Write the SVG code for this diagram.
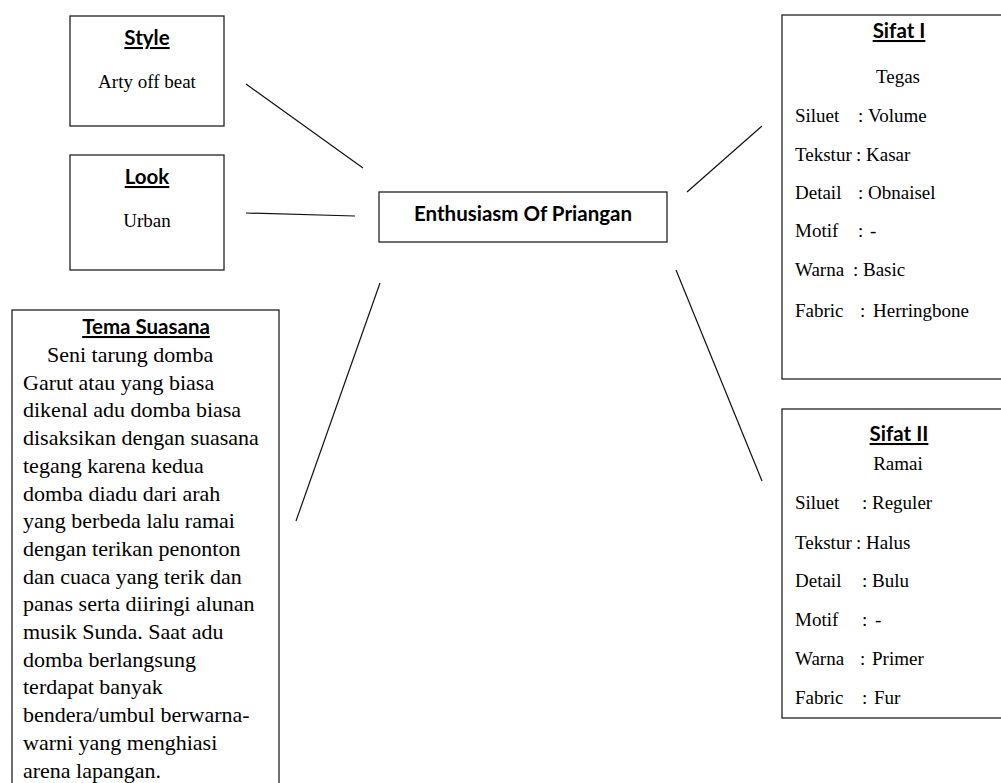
<svg xmlns="http://www.w3.org/2000/svg" width="1001" height="783" viewBox="0 0 1001 783">
<style>
.box{fill:#fff;stroke:#222;stroke-width:1.3}
.t{font-family:"Lato","Liberation Sans",sans-serif;font-weight:bold;font-size:20.5px;fill:#000;text-anchor:middle}
.u{text-decoration:underline}
.s{font-family:"Liberation Serif","Times New Roman",serif;font-size:19px;fill:#000}
.c{text-anchor:middle}
.b{font-family:"Liberation Serif","Times New Roman",serif;font-size:22px;fill:#000}
.ln{stroke:#111;stroke-width:1.2;fill:none}
</style>
<rect width="1001" height="783" fill="#fff"/>
<g id="connectors">
<line class="ln" x1="246" y1="84" x2="363" y2="168"/>
<line class="ln" x1="246" y1="213" x2="355" y2="216"/>
<line class="ln" x1="380" y1="283" x2="296" y2="521"/>
<line class="ln" x1="687" y1="192" x2="762" y2="126"/>
<line class="ln" x1="676" y1="270" x2="762" y2="481"/>
</g>
<g id="style">
<rect class="box" x="70" y="16" width="154" height="110"/>
<text class="t u" x="147" y="45">Style</text>
<text class="s c" x="147" y="88">Arty off beat</text>
</g>
<g id="look">
<rect class="box" x="70" y="155" width="154" height="115"/>
<text class="t u" x="147" y="184">Look</text>
<text class="s c" x="147" y="227">Urban</text>
</g>
<g id="center">
<rect class="box" x="379" y="192" width="288" height="50"/>
<text class="t" x="523" y="221">Enthusiasm Of Priangan</text>
</g>
<g id="tema">
<rect class="box" x="12" y="310" width="267" height="490"/>
<text class="t u" x="146" y="334">Tema Suasana</text>
<text class="b" x="47" y="362">Seni tarung domba</text>
<text class="b" x="23" y="389.7">Garut atau yang biasa</text>
<text class="b" x="23" y="417.4">dikenal adu domba biasa</text>
<text class="b" x="23" y="445.1">disaksikan dengan suasana</text>
<text class="b" x="23" y="472.8">tegang karena kedua</text>
<text class="b" x="23" y="500.5">domba diadu dari arah</text>
<text class="b" x="23" y="528.2">yang berbeda lalu ramai</text>
<text class="b" x="23" y="555.9">dengan terikan penonton</text>
<text class="b" x="23" y="583.6">dan cuaca yang terik dan</text>
<text class="b" x="23" y="611.3">panas serta diiringi alunan</text>
<text class="b" x="23" y="639">musik Sunda. Saat adu</text>
<text class="b" x="23" y="666.7">domba berlangsung</text>
<text class="b" x="23" y="694.4">terdapat banyak</text>
<text class="b" x="23" y="722.1">bendera/umbul berwarna-</text>
<text class="b" x="23" y="749.8">warni yang menghiasi</text>
<text class="b" x="23" y="777.5">arena lapangan.</text>
</g>
<g id="sifat1">
<rect class="box" x="782" y="15" width="230" height="364"/>
<text class="t u" x="899" y="38">Sifat I</text>
<text class="s c" x="898" y="83">Tegas</text>
<text class="s" x="795" y="122">Siluet</text><text class="s" x="858" y="122">:</text><text class="s" x="868" y="122">Volume</text>
<text class="s" x="795" y="161">Tekstur</text><text class="s" x="856" y="161">:</text><text class="s" x="866" y="161">Kasar</text>
<text class="s" x="795" y="199">Detail</text><text class="s" x="858" y="199">:</text><text class="s" x="868" y="199">Obnaisel</text>
<text class="s" x="795" y="237">Motif</text><text class="s" x="858" y="237">:</text><text class="s" x="870" y="237">-</text>
<text class="s" x="795" y="276">Warna</text><text class="s" x="853" y="276">:</text><text class="s" x="863" y="276">Basic</text>
<text class="s" x="795" y="317">Fabric</text><text class="s" x="860" y="317">:</text><text class="s" x="873" y="317">Herringbone</text>
</g>
<g id="sifat2">
<rect class="box" x="782" y="409" width="230" height="309"/>
<text class="t u" x="899" y="441">Sifat II</text>
<text class="s c" x="898" y="470">Ramai</text>
<text class="s" x="795" y="509">Siluet</text><text class="s" x="862" y="509">:</text><text class="s" x="872" y="509">Reguler</text>
<text class="s" x="795" y="549">Tekstur</text><text class="s" x="856" y="549">:</text><text class="s" x="866" y="549">Halus</text>
<text class="s" x="795" y="587">Detail</text><text class="s" x="862" y="587">:</text><text class="s" x="872" y="587">Bulu</text>
<text class="s" x="795" y="626">Motif</text><text class="s" x="862" y="626">:</text><text class="s" x="875" y="626">-</text>
<text class="s" x="795" y="665">Warna</text><text class="s" x="860" y="665">:</text><text class="s" x="872" y="665">Primer</text>
<text class="s" x="795" y="704">Fabric</text><text class="s" x="862" y="704">:</text><text class="s" x="874" y="704">Fur</text>
</g>
</svg>
